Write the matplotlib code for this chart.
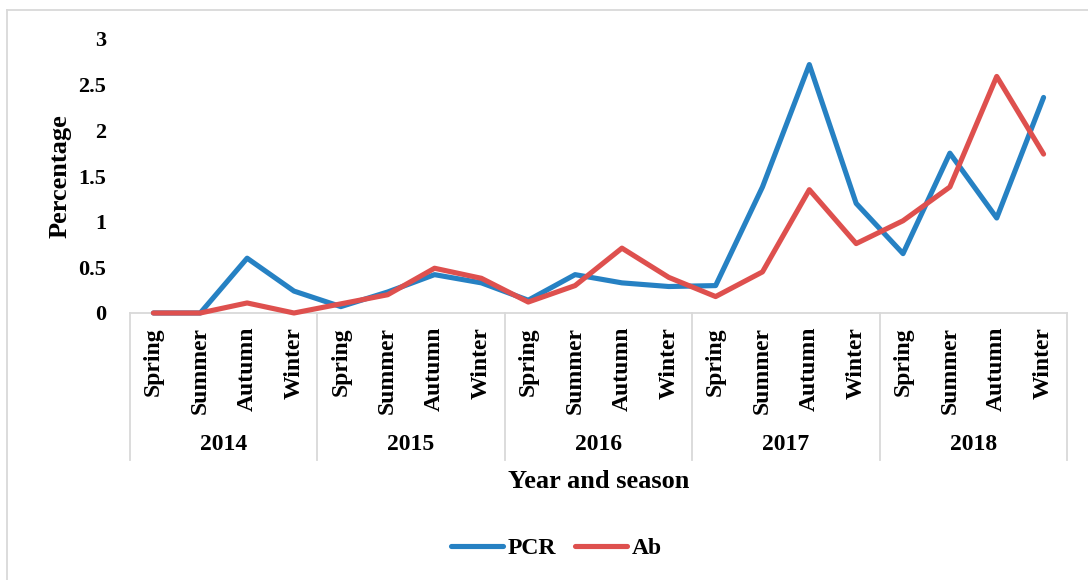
import matplotlib
matplotlib.use("Agg")
import matplotlib.pyplot as plt
from matplotlib.transforms import blended_transform_factory
from matplotlib.lines import Line2D

years = ["2014", "2015", "2016", "2017", "2018"]
seasons = ["Spring", "Summer", "Autumn", "Winter"]
pcr = [0, 0, 0.60, 0.24, 0.07, 0.23, 0.42, 0.33, 0.14, 0.42,
       0.33, 0.29, 0.30, 1.38, 2.72, 1.20, 0.65, 1.75, 1.04, 2.36]
ab = [0, 0, 0.11, 0, 0.10, 0.20, 0.49, 0.38, 0.12, 0.30,
      0.71, 0.39, 0.18, 0.45, 1.35, 0.76, 1.01, 1.38, 2.59, 1.74]
yticks = [0, 0.5, 1, 1.5, 2, 2.5, 3]
ytick_labels = ["0", "0.5", "1", "1.5", "2", "2.5", "3"]

plt.rcParams['font.family'] = ['Liberation Serif', 'DejaVu Serif']
plt.rcParams['font.weight'] = 'bold'

W, H = 1088, 580
fig = plt.figure(figsize=(W / 100, H / 100), dpi=100)
ax = fig.add_axes([130 / W, 1 - 313 / H, (1067 - 130) / W, (313 - 39) / H])

blue = "#2681C3"
red = "#DE504E"
grey = "#D9D9D9"

x = list(range(len(pcr)))
ax.plot(x, pcr, color=blue, lw=3.7, solid_joinstyle='round', solid_capstyle='round',
        label="PCR", clip_on=False, zorder=3)
ax.plot(x, ab, color=red, lw=3.7, solid_joinstyle='round', solid_capstyle='round',
        label="Ab", clip_on=False, zorder=4)

ax.set_xlim(-0.5, len(pcr) - 0.5)
ax.set_ylim(0, 3)
ax.set_yticks(yticks)
ax.set_yticklabels(ytick_labels, fontsize=16, fontweight='bold')
ax.tick_params(axis='y', length=0, pad=17)

labels = [s for _ in years for s in seasons]
ax.set_xticks(x)
ax.set_xticklabels(labels, rotation=90, fontsize=17, fontweight='bold')
ax.tick_params(axis='x', length=0, pad=10)

for s in ["left", "right", "top"]:
    ax.spines[s].set_visible(False)
ax.spines["bottom"].set_color(grey)
ax.spines["bottom"].set_linewidth(1.3)
ax.spines["bottom"].set_zorder(1)

tr = blended_transform_factory(ax.transData, ax.transAxes)
ybot = -(460 - 313) / 274
for i in range(len(years) + 1):
    xv = i * 4 - 0.5
    ax.add_line(Line2D([xv, xv], [0, ybot], transform=tr, color=grey, lw=1.3, clip_on=False))
for i, yr in enumerate(years):
    ax.text(i * 4 + 1.5, -(445 - 313) / 274, yr, transform=tr, ha='center', va='center',
            fontsize=17, fontweight='bold')

ax.text(0.5, -(481 - 313) / 274, "Year and season", transform=ax.transAxes, ha='center',
        va='center', fontsize=19, fontweight='bold')
fig.text(60 / W, 1 - 176 / H, "Percentage", rotation=90, ha='center', va='center',
         fontsize=19, fontweight='bold')

fig.legend(loc='center', bbox_to_anchor=(556 / W, 1 - 548 / H), ncol=2, frameon=False,
           prop={'size': 17, 'weight': 'bold'}, handlelength=2.2, handletextpad=0.2,
           columnspacing=0.8)

# outer chart frame (left and top edges visible)
fig.add_artist(Line2D([7 / W, 7 / W], [0, 1 - 10 / H], transform=fig.transFigure, color=grey, lw=1.3))
fig.add_artist(Line2D([7 / W, 1], [1 - 10 / H, 1 - 10 / H], transform=fig.transFigure, color=grey, lw=1.3))

fig.savefig("out.png", dpi=100)
